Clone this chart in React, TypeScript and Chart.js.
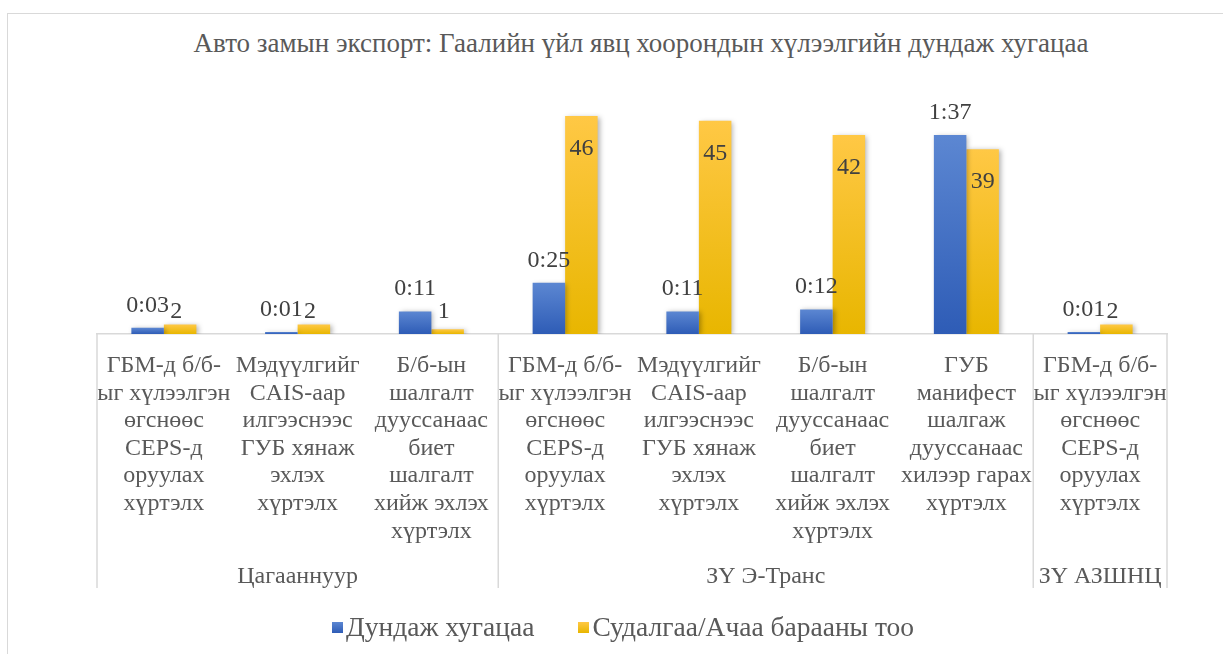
import React, { useEffect, useRef } from "react";
import { Chart, registerables } from "chart.js";

Chart.register(...registerables);

// ---- data ----
const categories: string[][] = [
  ["ГБМ-д б/б-", "ыг хүлээлгэн", "өгснөөс", "CEPS-д", "оруулах", "хүртэлх"],
  ["Мэдүүлгийг", "CAIS-аар", "илгээснээс", "ГУБ хянаж", "эхлэх", "хүртэлх"],
  ["Б/б-ын", "шалгалт", "дууссанаас", "биет", "шалгалт", "хийж эхлэх", "хүртэлх"],
  ["ГБМ-д б/б-", "ыг хүлээлгэн", "өгснөөс", "CEPS-д", "оруулах", "хүртэлх"],
  ["Мэдүүлгийг", "CAIS-аар", "илгээснээс", "ГУБ хянаж", "эхлэх", "хүртэлх"],
  ["Б/б-ын", "шалгалт", "дууссанаас", "биет", "шалгалт", "хийж эхлэх", "хүртэлх"],
  ["ГУБ", "манифест", "шалгаж", "дууссанаас", "хилээр гарах", "хүртэлх"],
  ["ГБМ-д б/б-", "ыг хүлээлгэн", "өгснөөс", "CEPS-д", "оруулах", "хүртэлх"],
];
const groupNames = ["Цагааннуур", "ЗҮ Э-Транс", "ЗҮ АЗШНЦ"];
const groupSizes = [3, 4, 1];
// average time in minutes (shown as h:mm)
const avgTimeMinutes = [3, 1, 11, 25, 11, 12, 97, 1];
const cargoCount = [2, 2, 1, 46, 45, 42, 39, 2];
const seriesNames = ["Дундаж хугацаа", "Судалгаа/Ачаа барааны тоо"];
const titleText =
  "Авто замын экспорт: Гаалийн үйл явц хоорондын хүлээлгийн дундаж хугацаа";

const FONT = "'Liberation Serif', 'Times New Roman', serif";
const BLUE_LIGHT = "#5c87d2";
const BLUE_DARK = "#2e5cb6";
const YEL_LIGHT = "#ffc845";
const YEL_DARK = "#e8b600";

const fmtTime = (m: number) =>
  `${Math.floor(m / 60)}:${String(m % 60).padStart(2, "0")}`;

function gradientFor(axisId: string, light: string, dark: string) {
  return (ctx: any) => {
    const chart = ctx.chart;
    if (!chart.chartArea || ctx.type !== "data") return dark;
    const scale = chart.scales[axisId];
    const top = scale.getPixelForValue(ctx.raw);
    const base = scale.getPixelForValue(0);
    if (!isFinite(top) || !isFinite(base) || base - top < 1) return dark;
    const g = chart.ctx.createLinearGradient(0, top, 0, base);
    g.addColorStop(0, light);
    g.addColorStop(1, dark);
    return g;
  };
}

const shadowPlugin = {
  id: "barShadow",
  beforeDatasetsDraw(chart: any) {
    const c = chart.ctx;
    c.save();
    c.shadowColor = "rgba(0,0,0,0.30)";
    c.shadowBlur = 5;
    c.shadowOffsetX = 2;
    c.shadowOffsetY = 1;
  },
  afterDatasetsDraw(chart: any) {
    chart.ctx.restore();
  },
};

const labelPlugin = {
  id: "valueLabels",
  afterDatasetsDraw(chart: any) {
    const c = chart.ctx;
    c.save();
    c.font = `24px ${FONT}`;
    c.fillStyle = "#404040";
    c.textAlign = "center";
    c.textBaseline = "alphabetic";
    const m0 = chart.getDatasetMeta(0);
    m0.data.forEach((bar: any, i: number) => {
      c.fillText(fmtTime(avgTimeMinutes[i]), bar.x, bar.y - 16);
    });
    const m1 = chart.getDatasetMeta(1);
    m1.data.forEach((bar: any, i: number) => {
      const h = bar.base - bar.y;
      const txt = String(cargoCount[i]);
      if (h > 50) c.fillText(txt, bar.x, bar.y + 39);
      else c.fillText(txt, bar.x - 4, bar.base - 16);
    });
    c.restore();
  },
};

const groupPlugin = {
  id: "groupAxis",
  afterDraw(chart: any) {
    const x = chart.scales.x;
    const c = chart.ctx;
    const step = x.getPixelForValue(1) - x.getPixelForValue(0);
    const top = chart.chartArea.bottom;
    const bottom = x.bottom;
    c.save();
    c.strokeStyle = "#d9d9d9";
    c.lineWidth = 1.5;
    c.font = `24px ${FONT}`;
    c.fillStyle = "#595959";
    c.textAlign = "center";
    c.textBaseline = "alphabetic";
    let start = 0;
    const edges: number[] = [x.getPixelForValue(0) - step / 2];
    groupSizes.forEach((n, gi) => {
      const left = x.getPixelForValue(start) - step / 2;
      const right = x.getPixelForValue(start + n - 1) + step / 2;
      edges.push(right);
      c.fillText(groupNames[gi], (left + right) / 2, bottom - 5);
      start += n;
    });
    edges.forEach((ex) => {
      c.beginPath();
      c.moveTo(ex, top);
      c.lineTo(ex, bottom);
      c.stroke();
    });
    c.restore();
  },
};

export default function App() {
  const ref = useRef<HTMLCanvasElement | null>(null);
  useEffect(() => {
    if (!ref.current) return;
    const chart = new Chart(ref.current, {
      type: "bar",
      data: {
        labels: categories,
        datasets: [
          {
            label: seriesNames[0],
            data: avgTimeMinutes,
            yAxisID: "yTime",
            backgroundColor: gradientFor("yTime", BLUE_LIGHT, BLUE_DARK),
            categoryPercentage: 0.486,
            barPercentage: 1,
          },
          {
            label: seriesNames[1],
            data: cargoCount,
            yAxisID: "yCount",
            backgroundColor: gradientFor("yCount", YEL_LIGHT, YEL_DARK),
            categoryPercentage: 0.486,
            barPercentage: 1,
          },
        ],
      },
      options: {
        animation: false,
        responsive: false,
        maintainAspectRatio: false,
        layout: { padding: { left: 97, right: 56, top: 97, bottom: 66 } },
        plugins: {
          legend: { display: false },
          title: { display: false },
          tooltip: { enabled: false },
        },
        scales: {
          x: {
            grid: { display: false, drawTicks: false },
            border: { display: true, color: "#d9d9d9", width: 1.5 },
            ticks: {
              autoSkip: false,
              maxRotation: 0,
              minRotation: 0,
              padding: 18,
              color: "#595959",
              font: { family: FONT, size: 24, lineHeight: 1.15 },
            },
            afterFit: (s: any) => {
              s.height = 254;
            },
          },
          yTime: { display: false, min: 0, max: 115.5 },
          yCount: { display: false, min: 0, max: 50 },
        },
      },
      plugins: [shadowPlugin, labelPlugin, groupPlugin],
    });
    return () => chart.destroy();
  }, []);

  return (
    <div
      style={{
        position: "fixed",
        left: 0,
        top: 0,
        width: 1223,
        height: 654,
        overflow: "hidden",
        background: "#fff",
      }}
    >
      <div
        style={{
          position: "absolute",
          left: 7,
          top: 13,
          width: 1300,
          height: 700,
          border: "1px solid #d9d9d9",
          boxSizing: "border-box",
        }}
      />
      <div
        style={{
          position: "absolute",
          left: 0,
          width: 1282,
          top: 30,
          textAlign: "center",
          font: `27px ${FONT}`,
          lineHeight: "27px",
          color: "#595959",
          whiteSpace: "nowrap",
        }}
      >
        {titleText}
      </div>
      <canvas
        ref={ref}
        width={1223}
        height={654}
        style={{ position: "absolute", left: 0, top: 0 }}
      />
      <div
        style={{
          position: "absolute",
          left: 332,
          top: 613,
          display: "flex",
          alignItems: "center",
          font: `27.5px ${FONT}`,
          lineHeight: "28px",
          color: "#595959",
          whiteSpace: "nowrap",
        }}
      >
        <span
          style={{
            display: "inline-block",
            width: 11,
            height: 11,
            background: `linear-gradient(${BLUE_LIGHT}, ${BLUE_DARK})`,
            marginRight: 3,
          }}
        />
        <span>{seriesNames[0]}</span>
        <span
          style={{
            display: "inline-block",
            width: 11,
            height: 11,
            background: `linear-gradient(${YEL_LIGHT}, ${YEL_DARK})`,
            marginLeft: 44,
            marginRight: 3,
          }}
        />
        <span>{seriesNames[1]}</span>
      </div>
    </div>
  );
}
